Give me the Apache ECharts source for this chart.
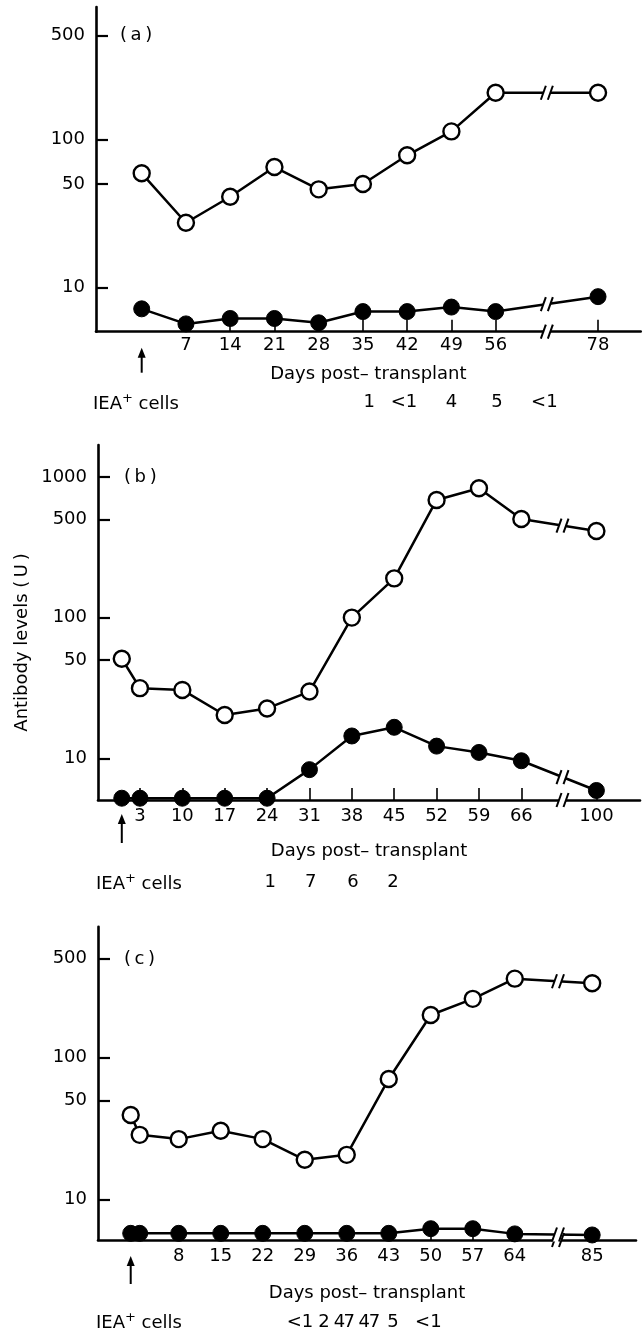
<!DOCTYPE html>
<html lang="en">
<head>
<meta charset="UTF-8">
<title>Antibody levels post-transplant</title>
<script src="https://cdn.jsdelivr.net/npm/echarts@6/dist/echarts.min.js"></script>
<style>
  html, body { margin: 0; padding: 0; background: #fff; }
  #main { width: 644px; height: 1332px; }
</style>
</head>
<body>
<div id="main"></div>
<script>
// panel (a)
var daysA = [0, 7, 14, 21, 28, 35, 42, 49, 56, 78];
var openA = [59, 27.4, 41, 65, 46, 50, 78, 113, 206, 206];
var filledA = [7.2, 5.7, 6.2, 6.2, 5.8, 6.9, 6.9, 7.4, 6.9, 8.7];
var tickDaysA = [7, 14, 21, 28, 35, 42, 49, 56, 78];
var ieaDaysA = [36, 41.5, 49, 56.2, 63.7];
var ieaTextA = ['1', '<1', '4', '5', '<1'];

// panel (b)
var daysB = [0, 3, 10, 17, 24, 31, 38, 45, 52, 59, 66, 100];
var openB = [51, 31.5, 30.6, 20.3, 22.6, 29.8, 100, 190, 686, 830, 502, 413];
var filledB = [5.2, 5.2, 5.2, 5.2, 5.2, 8.3, 14.4, 16.6, 12.2, 11, 9.6, 5.9];
var tickDaysB = [3, 10, 17, 24, 31, 38, 45, 52, 59, 66, 100];
var ieaDaysB = [24.5, 31.2, 38.2, 44.8];
var ieaTextB = ['1', '7', '6', '2'];

// panel (c)
var daysC = [0, 1.5, 8, 15, 22, 29, 36, 43, 50, 57, 64, 85];
var openC = [39.4, 28.5, 26.6, 30.5, 26.6, 19, 20.6, 70.7, 200, 260, 361, 335];
var filledC = [5.75, 5.75, 5.75, 5.75, 5.75, 5.75, 5.75, 5.75, 6.2, 6.2, 5.7, 5.6];
var tickDaysC = [8, 15, 22, 29, 36, 43, 50, 57, 64, 85];
var ieaDaysC = [28.2, 32.2, 34.8, 36.4, 38.9, 40.6, 43.7, 49.6];
var ieaTextC = ['<1', '2', '4', '7', '4', '7', '5', '<1'];

var yTicksA = [10, 50, 100, 500];
var yTicksB = [10, 50, 100, 500, 1000];
var yTicksC = [10, 50, 100, 500];

var FONT = 'DejaVu Sans';
var FS = 18;

var panels = [
  { days: daysA, open: openA, filled: filledA, ticks: tickDaysA, ieaDays: ieaDaysA, ieaText: ieaTextA, yTicks: yTicksA,
    grid: { left: 96, top: 7, width: 544.7, height: 324.7 }, xMin: -7.23, xMax: 84.75,
    brk: { start: 60, end: 74, gap: 8.2 }, yMin: 5.05, yMax: 779,
    labelMargin: 5, nameGap: 34, ieaOffset: 62, arrow: [16, 41] },
  { days: daysB, open: openB, filled: filledB, ticks: tickDaysB, ieaDays: ieaDaysB, ieaText: ieaTextB, yTicks: yTicksB,
    grid: { left: 98, top: 445, width: 542, height: 355 }, xMin: -3.93, xMax: 107.2,
    brk: { start: 69, end: 98.2, gap: 7.6 }, yMin: 5.05, yMax: 1686,
    labelMargin: 7, nameGap: 42, ieaOffset: 73.5, arrow: [14, 43] },
  { days: daysC, open: openC, filled: filledC, ticks: tickDaysC, ieaDays: ieaDaysC, ieaText: ieaTextC, yTicks: yTicksC,
    grid: { left: 98, top: 926.7, width: 538, height: 313.3 }, xMin: -5.45, xMax: 92.3,
    brk: { start: 67.2, end: 83.3, gap: 8 }, yMin: 5.16, yMax: 840,
    labelMargin: 7, nameGap: 44, ieaOffset: 73, arrow: [16, 44] }
];

function lg(v) { return Math.log10(v); }

// x position after the axis break, in axis units
function effX(x, b) {
  if (x <= b.start) return x;
  if (x >= b.end) return x - (b.end - b.start - b.gap);
  return b.start + (x - b.start) * b.gap / (b.end - b.start);
}

// where each line crosses the break, plus the axis itself
function breakMarks(p) {
  var b = p.brk, mid = (b.start + b.end) / 2, c = b.start + b.gap / 2;
  var out = [[mid, lg(p.yMin)]];
  [p.open, p.filled].forEach(function (vals) {
    for (var i = 0; i < p.days.length - 1; i++) {
      if (p.days[i] <= b.start && p.days[i + 1] >= b.end) {
        var x1 = effX(p.days[i], b), x2 = effX(p.days[i + 1], b);
        var t = (c - x1) / (x2 - x1);
        out.push([mid, lg(vals[i]) + t * (lg(vals[i + 1]) - lg(vals[i]))]);
      }
    }
  });
  return out;
}

var grids = [], xAxes = [], yAxes = [], series = [];

panels.forEach(function (p, k) {
  grids.push({ left: p.grid.left, top: p.grid.top, width: p.grid.width, height: p.grid.height, outerBoundsMode: 'none' });

  xAxes.push({
    type: 'value', gridIndex: k, min: p.xMin, max: p.xMax,
    breaks: [p.brk], breakArea: { show: false },
    axisLine: { onZero: false, breakLine: false, lineStyle: { color: '#000', width: 2.6 } },
    axisTick: { inside: true, length: 12, customValues: p.ticks, lineStyle: { color: '#000', width: 1.6 } },
    axisLabel: { customValues: p.ticks, color: '#000', fontSize: FS, fontFamily: FONT, margin: p.labelMargin },
    splitLine: { show: false },
    name: 'Days post\u2013 transplant', nameLocation: 'middle', nameGap: p.nameGap,
    nameTextStyle: { color: '#000', fontSize: FS, fontFamily: FONT }
  });
  // IEA+ cell counts row, on the same scale without the break
  xAxes.push({
    type: 'value', gridIndex: k, position: 'bottom', offset: p.ieaOffset,
    min: p.xMin, max: p.xMax - (p.brk.end - p.brk.start - p.brk.gap),
    axisLine: { show: false, onZero: false }, axisTick: { show: false }, splitLine: { show: false },
    axisLabel: {
      customValues: p.ieaDays, color: '#000', fontSize: FS, fontFamily: FONT, margin: 0,
      formatter: function (v) {
        var best = 0;
        p.ieaDays.forEach(function (d, i) { if (Math.abs(d - v) < Math.abs(p.ieaDays[best] - v)) best = i; });
        return p.ieaText[best];
      }
    }
  });

  var yt = p.yTicks.map(lg);
  yAxes.push({
    type: 'value', gridIndex: k, min: lg(p.yMin), max: lg(p.yMax),
    axisLine: { show: true, onZero: false, lineStyle: { color: '#000', width: 2.6 } },
    axisTick: { show: true, inside: true, length: 12, customValues: yt, lineStyle: { color: '#000', width: 2.2 } },
    axisLabel: { customValues: yt, color: '#000', fontSize: FS, fontFamily: FONT, margin: 11,
      formatter: function (v) { return String(Math.round(Math.pow(10, v))); } },
    splitLine: { show: false }
  });

  var xi = k * 2;
  series.push({
    type: 'line', xAxisIndex: xi, yAxisIndex: k, z: 3,
    data: p.days.map(function (d, i) { return [d, lg(p.open[i])]; }),
    symbol: 'circle', symbolSize: 16, showAllSymbol: true,
    itemStyle: { color: '#fff', borderColor: '#000', borderWidth: 2.4 },
    lineStyle: { color: '#000', width: 2.5 }
  });
  series.push({
    type: 'line', xAxisIndex: xi, yAxisIndex: k, z: 3,
    data: p.days.map(function (d, i) { return [d, lg(p.filled[i])]; }),
    symbol: 'circle', symbolSize: 16, showAllSymbol: true,
    itemStyle: { color: '#000', borderColor: '#000', borderWidth: 1 },
    lineStyle: { color: '#000', width: 2.5 }
  });
  // "//" break marks
  series.push({
    type: 'custom', xAxisIndex: xi, yAxisIndex: k, z: 6, silent: true,
    data: breakMarks(p),
    renderItem: function (params, api) {
      var c = api.coord([api.value(0), api.value(1)]);
      var x = c[0], y = c[1];
      return { type: 'group', children: [
        { type: 'polygon', shape: { points: [[x - 6, y + 7], [x - 1, y - 7], [x + 6, y - 7], [x + 1, y + 7]] },
          style: { fill: '#fff' } },
        { type: 'line', shape: { x1: x - 6, y1: y + 7, x2: x - 1, y2: y - 7 }, style: { stroke: '#000', lineWidth: 2 } },
        { type: 'line', shape: { x1: x + 1, y1: y + 7, x2: x + 6, y2: y - 7 }, style: { stroke: '#000', lineWidth: 2 } }
      ] };
    }
  });
  // transplant arrow under day 0
  series.push({
    type: 'custom', xAxisIndex: xi, yAxisIndex: k, z: 6, silent: true, clip: false,
    data: [[0, lg(p.yMin)]],
    renderItem: function (params, api) {
      var c = api.coord([api.value(0), api.value(1)]);
      var x = c[0], y0 = c[1] + p.arrow[0], y1 = c[1] + p.arrow[1];
      return { type: 'group', children: [
        { type: 'line', shape: { x1: x, y1: y0 + 6, x2: x, y2: y1 }, style: { stroke: '#000', lineWidth: 2 } },
        { type: 'polygon', shape: { points: [[x, y0], [x - 4, y0 + 10], [x + 4, y0 + 10]] }, style: { fill: '#000' } }
      ] };
    }
  });
});

var ieaRich = {
  m: { fontSize: FS, fontFamily: FONT, fill: '#000', padding: [4, 0, 0, 0], lineHeight: 21, verticalAlign: 'bottom' },
  s: { fontSize: 13, fontFamily: FONT, fill: '#000', lineHeight: 13, verticalAlign: 'top' }
};
function ieaLabel(x, y) {
  return { type: 'text', x: x, y: y, style: { text: '{m|IEA}{s|+}{m| cells}', rich: ieaRich, verticalAlign: 'middle' } };
}
function tag(t, x, y) {
  return { type: 'text', x: x, y: y, style: { text: t, fontSize: FS, fontFamily: FONT, fill: '#000', verticalAlign: 'middle' } };
}

var myChart = echarts.init(document.getElementById('main'));
myChart.setOption({
  animation: false,
  textStyle: { fontFamily: FONT, color: '#000' },
  grid: grids,
  xAxis: xAxes,
  yAxis: yAxes,
  series: series,
  graphic: [
    tag('(\u2009a\u2009)', 120, 35),
    tag('(\u2009b\u2009)', 124, 477),
    tag('(\u2009c\u2009)', 124, 959),
    ieaLabel(93, 403),
    ieaLabel(96, 883),
    ieaLabel(96, 1322),
    { type: 'text', x: 22.7, y: 642.5, rotation: Math.PI / 2,
      style: { text: 'Antibody levels (\u2009U\u2009)', fontSize: FS, fontFamily: FONT, fill: '#000',
        align: 'center', verticalAlign: 'middle' } }
  ]
});
</script>
</body>
</html>
